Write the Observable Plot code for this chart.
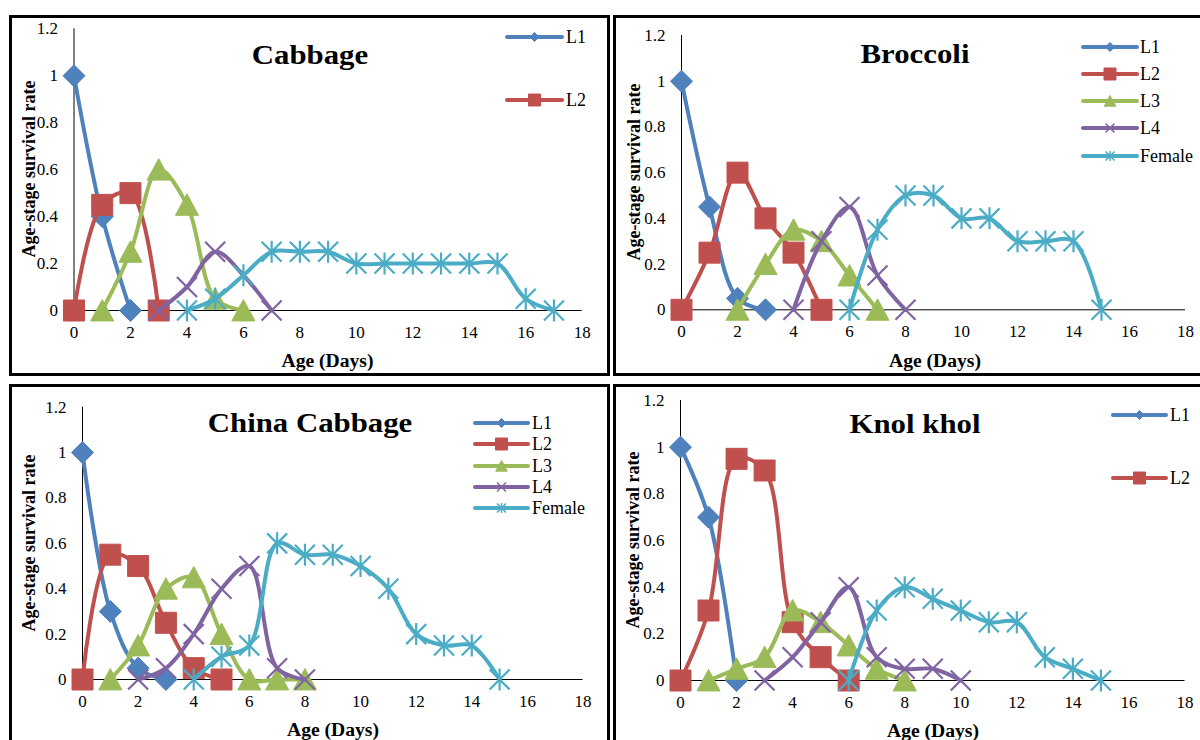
<!DOCTYPE html>
<html>
<head>
<meta charset="utf-8">
<script src="https://cdn.jsdelivr.net/npm/d3@7"></script>
<script src="https://cdn.jsdelivr.net/npm/@observablehq/plot@0.6"></script>
<style>
html, body { margin: 0; padding: 0; background: #fff; }
#fig { position: relative; width: 1200px; height: 740px; overflow: hidden; background: #fff;
       font-family: "Liberation Serif", "Times New Roman", serif; }
.panel { position: absolute; border: 3px solid #000; box-sizing: border-box; }
.chart { position: absolute; }
#overlay { position: absolute; left: 0; top: 0; }
</style>
</head>
<body>
<div id="fig"></div>
<script>
// ---------- DATA ----------
const xTicks = [0, 2, 4, 6, 8, 10, 12, 14, 16, 18];
const yTicks = [0, 0.2, 0.4, 0.6, 0.8, 1, 1.2];
const stages = ["L1", "L2", "L3", "L4", "Female"];
const panelTitles = ["Cabbage", "Broccoli", "China Cabbage", "Knol khol"];
const xTitle = "Age (Days)";
const yTitle = "Age-stage survival rate";

// [day, survival rate]
const cabbageL1 = [[0, 1], [1, 0.4], [2, 0]];
const cabbageL2 = [[0, 0], [1, 0.45], [2, 0.5], [3, 0]];
const cabbageL3 = [[1, 0], [2, 0.25], [3, 0.6], [4, 0.45], [5, 0.05], [6, 0]];
const cabbageL4 = [[3, 0], [4, 0.1], [5, 0.25], [6, 0.15], [7, 0]];
const cabbageFemale = [[4, 0], [5, 0.05], [6, 0.15], [7, 0.25], [8, 0.25], [9, 0.25], [10, 0.2], [11, 0.2], [12, 0.2], [13, 0.2], [14, 0.2], [15, 0.2], [16, 0.05], [17, 0]];

const broccoliL1 = [[0, 1], [1, 0.45], [2, 0.05], [3, 0]];
const broccoliL2 = [[0, 0], [1, 0.25], [2, 0.6], [3, 0.4], [4, 0.25], [5, 0]];
const broccoliL3 = [[2, 0], [3, 0.2], [4, 0.35], [5, 0.3], [6, 0.15], [7, 0]];
const broccoliL4 = [[4, 0], [5, 0.3], [6, 0.45], [7, 0.15], [8, 0]];
const broccoliFemale = [[6, 0], [7, 0.35], [8, 0.5], [9, 0.5], [10, 0.4], [11, 0.4], [12, 0.3], [13, 0.3], [14, 0.3], [15, 0]];

const chinaL1 = [[0, 1], [1, 0.3], [2, 0.05], [3, 0]];
const chinaL2 = [[0, 0], [1, 0.55], [2, 0.5], [3, 0.25], [4, 0.05], [5, 0]];
const chinaL3 = [[1, 0], [2, 0.15], [3, 0.4], [4, 0.45], [5, 0.2], [6, 0], [7, 0], [8, 0]];
const chinaL4 = [[2, 0], [3, 0.05], [4, 0.2], [5, 0.4], [6, 0.5], [7, 0.05], [8, 0]];
const chinaFemale = [[4, 0], [5, 0.1], [6, 0.15], [7, 0.6], [8, 0.55], [9, 0.55], [10, 0.5], [11, 0.4], [12, 0.2], [13, 0.15], [14, 0.15], [15, 0]];

const knolL1 = [[0, 1], [1, 0.7], [2, 0]];
const knolL2 = [[0, 0], [1, 0.3], [2, 0.95], [3, 0.9], [4, 0.25], [5, 0.1], [6, 0]];
const knolL3 = [[1, 0], [2, 0.05], [3, 0.1], [4, 0.3], [5, 0.25], [6, 0.15], [7, 0.05], [8, 0]];
const knolL4 = [[3, 0], [4, 0.1], [5, 0.25], [6, 0.4], [7, 0.1], [8, 0.05], [9, 0.05], [10, 0]];
const knolFemale = [[6, 0], [7, 0.3], [8, 0.4], [9, 0.35], [10, 0.3], [11, 0.25], [12, 0.25], [13, 0.1], [14, 0.05], [15, 0]];

const cabbageLegend = ["L1", "L2"];
const broccoliLegend = ["L1", "L2", "L3", "L4", "Female"];
const chinaLegend = ["L1", "L2", "L3", "L4", "Female"];
const knolLegend = ["L1", "L2"];

// ---------- STYLES ----------
const colors = {L1: "#4F81BD", L2: "#C0504D", L3: "#9BBB59", L4: "#8064A2", Female: "#4BACC6"};

function sym(fn) { return {draw(ctx, size) { fn(ctx, Math.sqrt(size / Math.PI)); }}; }
const symbols = {
  L1: sym((c, r) => { c.moveTo(0, -r); c.lineTo(r, 0); c.lineTo(0, r); c.lineTo(-r, 0); c.closePath(); }),
  L2: sym((c, r) => { c.moveTo(-r, -r); c.lineTo(r, -r); c.lineTo(r, r); c.lineTo(-r, r); c.closePath(); }),
  L3: sym((c, r) => { c.moveTo(0, -r); c.lineTo(r * 1.05, r * 0.95); c.lineTo(-r * 1.05, r * 0.95); c.closePath(); }),
  L4: sym((c, r) => { c.moveTo(-r, -r); c.lineTo(r, r); c.moveTo(-r, r); c.lineTo(r, -r); }),
  Female: sym((c, r) => { c.moveTo(-r, -r); c.lineTo(r, r); c.moveTo(-r, r); c.lineTo(r, -r); c.moveTo(0, -r * 1.1); c.lineTo(0, r * 1.1); })
};
const filled = {L1: true, L2: true, L3: true, L4: false, Female: false};
const markerR = {L1: 11, L2: 10.5, L3: 11, L4: 10, Female: 10};
const legendR = {L1: 4.5, L2: 6, L3: 5.5, L4: 4.5, Female: 4.5};

// ---------- LAYOUT ----------
const layouts = [
  {border: [9, 15, 601, 361], svg: [12, 18, 594, 355], frame: [73.5, 581.7, 310, 28.3],
   title: [310, 64], xt: [327.5, 367], yt: [29, 169], legend: [507, 562, 566, [37, 100]]},
  {border: [613, 15, 600, 361], svg: [616, 18, 584, 355], frame: [681, 1185, 309.3, 35],
   title: [915, 63], xt: [935, 367], yt: [634, 172], legend: [1083, 1137, 1140, [47, 74, 101, 128, 156]]},
  {border: [9, 384, 601, 400], svg: [12, 387, 594, 353], frame: [82, 582.5, 679, 406.7],
   title: [310, 432], xt: [333, 736], yt: [29, 543], legend: [475, 528, 532, [423, 444, 466, 487, 508]]},
  {border: [613, 384, 600, 400], svg: [616, 387, 584, 353], frame: [680, 1184.5, 680, 400],
   title: [915, 433], xt: [933, 737], yt: [633, 540], legend: [1113, 1166, 1170, [415, 478]]}
];

const panelSeries = [
  [cabbageL1, cabbageL2, cabbageL3, cabbageL4, cabbageFemale],
  [broccoliL1, broccoliL2, broccoliL3, broccoliL4, broccoliFemale],
  [chinaL1, chinaL2, chinaL3, chinaL4, chinaFemale],
  [knolL1, knolL2, knolL3, knolL4, knolFemale]
];
const panelLegends = [cabbageLegend, broccoliLegend, chinaLegend, knolLegend];

const fig = document.getElementById("fig");
const FONT = '"Liberation Serif", "Times New Roman", serif';

layouts.forEach((lay, i) => {
  const [bl, bt, bw, bh] = lay.border;
  const p = document.createElement("div");
  p.className = "panel";
  Object.assign(p.style, {left: bl + "px", top: bt + "px", width: bw + "px", height: bh + "px"});
  fig.appendChild(p);

  const [L, T, W, H] = lay.svg;
  const [fx0, fx1, fy0, fy1] = lay.frame;
  const marks = [
    Plot.axisX({ticks: xTicks, tickSize: 0, tickPadding: 15, label: null, fontSize: 17}),
    Plot.axisY({ticks: yTicks, tickSize: 0, tickPadding: 16, label: null, fontSize: 17, tickFormat: d => String(d)}),
    Plot.ruleY([0], {stroke: "#000", strokeWidth: 1}),
    Plot.ruleX([0], {stroke: "#000", strokeWidth: 1})
  ];
  panelSeries[i].forEach((data, k) => {
    const st = stages[k];
    marks.push(Plot.line(data, {x: d => d[0], y: d => d[1], stroke: colors[st], strokeWidth: 4,
      curve: "catmull-rom", strokeLinecap: "round", strokeLinejoin: "round"}));
    marks.push(Plot.dot(data, {x: d => d[0], y: d => d[1], symbol: symbols[st], r: markerR[st],
      fill: filled[st] ? colors[st] : "none", stroke: colors[st],
      strokeWidth: filled[st] ? 1 : 2.2}));
  });
  const chart = Plot.plot({
    width: W, height: H,
    marginLeft: fx0 - L, marginRight: L + W - fx1, marginTop: fy1 - T, marginBottom: T + H - fy0,
    x: {domain: [0, 18]},
    y: {domain: [0, 1.2]},
    style: {background: "transparent", fontFamily: FONT, fontSize: "17px", color: "#000"},
    marks
  });
  chart.classList.add("chart");
  Object.assign(chart.style, {left: L + "px", top: T + "px", maxWidth: "none"});
  fig.appendChild(chart);
});

// overlay: titles, axis titles, legends
const ov = d3.select(fig).append("svg").attr("id", "overlay").attr("width", 1200).attr("height", 740)
  .style("font-family", FONT);
layouts.forEach((lay, i) => {
  ov.append("text").attr("transform", `translate(${lay.title[0]},${lay.title[1]}) scale(1.1,1)`)
    .attr("text-anchor", "middle")
    .attr("font-size", 28).attr("font-weight", "bold").attr("fill", "#000").text(panelTitles[i]);
  ov.append("text").attr("transform", `translate(${lay.xt[0]},${lay.xt[1]}) scale(1.06,1)`)
    .attr("text-anchor", "middle")
    .attr("font-size", 18.5).attr("font-weight", "bold").attr("fill", "#000").text(xTitle);
  ov.append("text").attr("transform", `translate(${lay.yt[0]},${lay.yt[1]}) rotate(-90)`)
    .attr("text-anchor", "middle").attr("dominant-baseline", "central")
    .attr("font-size", 18).attr("font-weight", "bold").attr("fill", "#000").text(yTitle);
  const [lx1, lx2, tx, ys] = lay.legend;
  panelLegends[i].forEach((st, k) => {
    const y = ys[k];
    const g = ov.append("g");
    g.append("line").attr("x1", lx1).attr("x2", lx2).attr("y1", y).attr("y2", y)
      .attr("stroke", colors[st]).attr("stroke-width", 4).attr("stroke-linecap", "round");
    const r = legendR[st];
    g.append("path").attr("transform", `translate(${(lx1 + lx2) / 2},${y})`)
      .attr("d", d3.symbol().type(symbols[st]).size(Math.PI * r * r)())
      .attr("fill", filled[st] ? colors[st] : "none").attr("stroke", colors[st])
      .attr("stroke-width", filled[st] ? 1 : 1.5);
    g.append("text").attr("x", tx).attr("y", y).attr("dominant-baseline", "central")
      .attr("font-size", 18).attr("fill", "#000").text(st);
  });
});
</script>
</body>
</html>
